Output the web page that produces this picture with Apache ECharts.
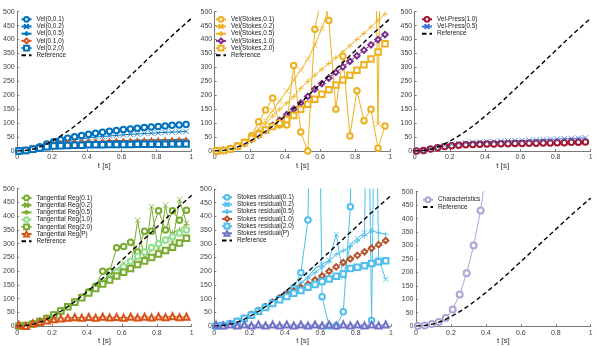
<!DOCTYPE html>
<html><head><meta charset="utf-8">
<script src="https://cdn.jsdelivr.net/npm/echarts@6/dist/echarts.min.js"></script>
<style>html,body{margin:0;padding:0;background:#fff}#c{width:596px;height:346px}</style>
</head><body><div id="c"></div>
<script>
// time samples (s)
const T = [0.01,0.05,0.09,0.13,0.17,0.21,0.25,0.29,0.33,0.37,0.41,0.45,0.49,0.53,0.57,0.61,0.65,0.69,0.73,0.77,0.81,0.85,0.89,0.93,0.97];
const TR = [0,0.05,0.1,0.15,0.2,0.25,0.3,0.35,0.4,0.45,0.5,0.55,0.6,0.65,0.7,0.75,0.8,0.85,0.9,0.95,1.0];
const REF = [0,2,8,19,35,54,75,99,125,152,180,210,240,270,300,330,360,390,420,448,476];

// panel 1
const vel_0_01 = [0,2,8,15,25,33,40,46,51,56,60,64,67,71,74,77,79,82,84,86,88,90,92,93,95];
const vel_0_02 = [0,2,8,15,22,28,33,37,41,44,47,50,52,54,56,58,60,61,63,64,65,67,68,69,70];
const vel_0_05 = [0,2,7,13,19,23,26,28,30,31,33,34,35,36,37,37,38,39,39,40,40,41,41,42,42];
const vel_01_0 = [0,2,7,12,17,21,24,26,27,28,29,30,30,31,31,32,32,32,33,33,33,33,34,34,34];
const vel_02_0 = [0,2,6,11,15,18,19,20,21,21,22,22,22,23,23,23,23,24,24,24,24,24,25,25,25];

// panel 2
const stk01 = [0,2,8,18,32,55,105,147,190,93,93,307,68,0,437,560,468,150,340,54,216,109,150,10,90];
const stk02 = [0,2,8,18,32,52,80,110,145,180,215,255,290,330,380,440,510,2000,2000,2000,2000,2000,2000,97,2000];
const stk05 = [0,2,8,18,32,50,72,98,125,150,172,195,225,250,272,293,314,335,356,378,400,422,445,469,492];
const stk10 = [0,2,8,17,28,42,57,74,92,110,130,150,172,196,222,242,262,282,302,322,342,362,381,400,418];
const stk20 = [0,2,7,17,30,45,60,75,88,100,113,127,150,168,186,204,220,237,255,272,290,310,330,355,385];

// panel 3
const vp10 = [0,2,7,12,16,19,21,22,23,24,25,25,26,26,27,27,28,28,29,29,30,30,31,31,32];
const vp05 = [0,2,8,14,20,24,27,29,31,32,33,34,35,36,37,38,39,40,41,42,43,44,45,46,47];

// panel 4
const tr01 = [0,2,8,17,28,40,55,70,88,105,125,145,200,200,285,290,305,270,345,345,420,350,420,385,422];
const tr02 = [0,2,8,17,28,40,55,70,88,105,125,145,165,185,205,230,205,385,235,435,270,440,300,460,375];
const tr05 = [0,2,8,17,28,40,55,70,88,105,125,145,165,182,200,220,215,255,245,280,300,310,340,350,370];
const tr10 = [0,2,8,17,28,40,55,70,87,104,122,140,158,176,196,216,236,254,270,286,300,313,325,338,350];
const tr20 = [0,2,8,17,28,40,55,70,87,103,120,137,153,168,182,196,210,224,237,250,262,275,287,302,320];
const trP  = [5,0,10,15,20,25,28,30,32,30,33,30,34,31,33,30,34,31,34,31,35,32,36,32,34];

// panel 5
const sr01 = [0,2,8,17,28,42,56,71,86,102,118,140,195,387,2000,107,0,0,52,435,2000,2000,20,2000,2000];
const sr02 = [0,2,8,17,28,42,56,71,86,102,120,138,155,180,210,225,240,335,178,298,320,340,2000,245,170];
const sr05 = [0,2,8,17,28,42,56,71,86,102,120,138,158,175,195,215,235,262,275,290,310,330,348,340,335];
const sr10 = [0,2,8,17,28,42,56,71,86,102,116,127,140,153,168,183,200,216,232,245,258,271,284,297,312];
const sr20 = [0,2,8,17,28,40,54,68,82,96,108,120,130,142,152,163,172,182,190,210,215,220,228,235,238];
const srP  = [5,2,6,2,6,2,6,2,6,2,6,2,6,2,6,2,6,2,6,2,6,2,6,2,6];

// panel 6
const T6 = [0.01,0.05,0.09,0.13,0.17,0.21,0.25,0.29,0.33,0.37,0.41];
const chars = [0,2,8,15,30,62,118,197,300,430,620];

const SYM = {o:'emptyCircle', x:'path://M0,0L10,10M0,10L10,0', p:'path://M5,0L5,10M0,5L10,5', d:'emptyDiamond', s:'emptyRect', t:'emptyTriangle'};
const zip = (xs, ys) => ys.map((y,i)=>[xs[i], y]);

const grids = [
  {left:14.3, top:11.7, width:177, height:139.3},
  {left:214.7, top:11.7, width:175.6, height:139.3},
  {left:414.7, top:11.7, width:176, height:139.3},
  {left:14.3, top:188.7, width:177.4, height:140},
  {left:214.3, top:189, width:176.7, height:139.7},
  {left:416, top:191.7, width:174.7, height:137.3}
];

const series = [];
function add(gi, name, xs, ys, color, sym, size){
  series.push({type:'line', name, xAxisIndex:gi, yAxisIndex:gi, data:zip(xs,ys),
    symbol:SYM[sym], symbolSize:size||5.5, clip:true, animation:false,
    lineStyle:{color, width:1}, itemStyle:{color, borderColor:color, borderWidth:0.8}});
}
function ref(gi){
  series.push({type:'line', name:'Reference', xAxisIndex:gi, yAxisIndex:gi, data:zip(TR,REF),
    symbol:'none', clip:true, animation:false, z:5,
    lineStyle:{color:'#000', width:1.4, type:[4.5,3]}, itemStyle:{color:'rgba(0,0,0,0)', borderWidth:0}});
}
const B='#0072BD', O='#D95319', Y='#EDB120', P='#7E2F8E', R='#A2142F', B2='#3A6FD8', G='#77AC30', LG='#8FE08F', C='#4DBEEE', BR='#B5522A', PU='#7272C8', LV='#A9A6D6';
add(0,'Vel(0,0.1)',T,vel_0_01,B,'o');
add(0,'Vel(0,0.2)',T,vel_0_02,B,'x');
add(0,'Vel(0,0.5)',T,vel_0_05,B,'p');
add(0,'Vel(0.1,0)',T,vel_01_0,O,'d');
add(0,'Vel(0.2,0)',T,vel_02_0,B,'s');
ref(0);
add(1,'Vel(Stokes,0.1)',T,stk01,Y,'o');
add(1,'Vel(Stokes,0.2)',T,stk02,Y,'x');
add(1,'Vel(Stokes,0.5)',T,stk05,Y,'p');
add(1,'Vel(Stokes,1.0)',T,stk10,P,'d');
add(1,'Vel(Stokes,2.0)',T,stk20,Y,'s');
ref(1);
add(2,'Vel-Press(1.0)',T,vp10,R,'o');
add(2,'Vel-Press(0.5)',T,vp05,B2,'x');
ref(2);
add(3,'Tangential Reg(0.1)',T,tr01,G,'o');
add(3,'Tangential Reg(0.2)',T,tr02,G,'x');
add(3,'Tangential Reg(0.5)',T,tr05,G,'p');
add(3,'Tangential Reg(1.0)',T,tr10,LG,'o');
add(3,'Tangential Reg(2.0)',T,tr20,G,'s');
add(3,'Tangential Reg(P)',T,trP,O,'t',6);
ref(3);
add(4,'Stokes residual(0.1)',T,sr01,C,'o');
add(4,'Stokes residual(0.2)',T,sr02,C,'x');
add(4,'Stokes residual(0.5)',T,sr05,C,'p');
add(4,'Stokes residual(1.0)',T,sr10,BR,'d');
add(4,'Stokes residual(2.0)',T,sr20,C,'s');
add(4,'Stokes residual(P)',T,srP,PU,'t',6);
ref(4);
add(5,'Characteristics',T6,chars,LV,'o',6);
ref(5);

const legendNames = [
  ['Vel(0,0.1)','Vel(0,0.2)','Vel(0,0.5)','Vel(0.1,0)','Vel(0.2,0)','Reference'],
  ['Vel(Stokes,0.1)','Vel(Stokes,0.2)','Vel(Stokes,0.5)','Vel(Stokes,1.0)','Vel(Stokes,2.0)','Reference'],
  ['Vel-Press(1.0)','Vel-Press(0.5)','Reference'],
  ['Tangential Reg(0.1)','Tangential Reg(0.2)','Tangential Reg(0.5)','Tangential Reg(1.0)','Tangential Reg(2.0)','Tangential Reg(P)','Reference'],
  ['Stokes residual(0.1)','Stokes residual(0.2)','Stokes residual(0.5)','Stokes residual(1.0)','Stokes residual(2.0)','Stokes residual(P)','Reference'],
  ['Characteristics','Reference']
];
const legendPos = [[20.5,15.8],[215,15.8],[421,15.8],[20.5,194.5],[221,193.8],[422,196.2]];
const legends = legendNames.map((names,i)=>({
  data:names, orient:'vertical', left:legendPos[i][0], top:legendPos[i][1],
  itemWidth:10, itemHeight:6, itemGap:0.2, padding:0, selectedMode:false,
  textStyle:{fontSize:6.4, lineHeight:7, color:'#1a1a1a', fontFamily:'Liberation Sans'}
}));

const axLine = {lineStyle:{color:'#7a7a7a', width:1}};
const xAxis = grids.map((g,i)=>({gridIndex:i, type:'value', min:0, max:1, interval:0.2,
  name:'t [s]', nameLocation:'middle', nameGap: i<3 ? 11 : 10,
  nameTextStyle:{fontSize:8, color:'#333', fontFamily:'Liberation Sans'},
  axisLine:axLine, axisTick:{show:true, inside:true, length:2, lineStyle:{color:'#7a7a7a'}},
  axisLabel:{fontSize:7, color:'#404040', margin:3, fontFamily:'Liberation Sans'}, splitLine:{show:false}}));
const yAxis = grids.map((g,i)=>({gridIndex:i, type:'value', min:0, max:500, interval:50,
  axisLine:Object.assign({show:true},axLine), axisTick:{show:true, inside:true, length:2, lineStyle:{color:'#7a7a7a'}},
  axisLabel:{fontSize:7, color:'#404040', margin:2.5, fontFamily:'Liberation Sans'}, splitLine:{show:false}}));

const chart = echarts.init(document.getElementById('c'), null, {renderer:'canvas'});
chart.setOption({animation:false, backgroundColor:'#fff', grid:grids, xAxis, yAxis, legend:legends, series,
  textStyle:{fontFamily:'Liberation Sans'}});
</script></body></html>
